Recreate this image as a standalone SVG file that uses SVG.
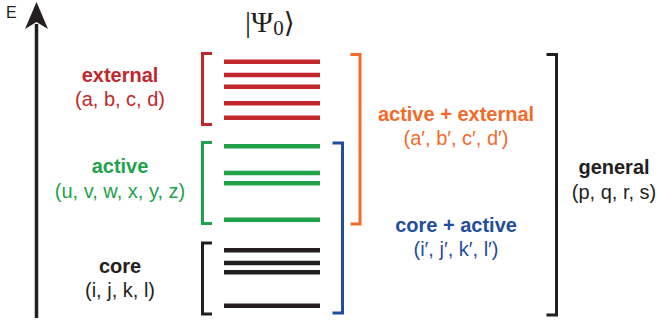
<svg xmlns="http://www.w3.org/2000/svg" width="658" height="327" viewBox="0 0 658 327">
<style>
.b{font-family:"Liberation Sans",Arial,sans-serif;font-weight:bold;font-size:20px;text-anchor:middle}
.r{font-family:"Liberation Sans",Arial,sans-serif;font-size:20px;text-anchor:middle}
.br{fill:none;stroke-width:3;stroke-linecap:butt;stroke-linejoin:miter}
.lv{stroke-width:4.5}
.tred{fill:#C1272D}.sred{stroke:#C1272D}
.tgrn{fill:#1FA24A}.sgrn{stroke:#1FA24A}
.tblk{fill:#231F20}.sblk{stroke:#231F20}
.torg{fill:#F26B2A}.sorg{stroke:#F26B2A}
.tblu{fill:#1F4E9E}.sblu{stroke:#1F4E9E}
</style>
<rect width="658" height="327" fill="#ffffff"/>

<g id="axis">
<line x1="36.5" y1="318" x2="36.5" y2="24" stroke="#231F20" stroke-width="3.5"/>
<path d="M36.5,2 L48,29 L36.5,22 L25,29 Z" fill="#231F20"/>
<text x="6" y="18" font-family="Liberation Sans,Arial,sans-serif" font-size="16" fill="#231F20">E</text>
</g>

<g id="psi0">
<text x="245" y="32" font-family="Liberation Serif,'DejaVu Serif',serif" font-size="30" fill="#231F20">|Ψ<tspan font-size="21" dy="3">0</tspan><tspan dy="-3" font-family="DejaVu Serif,serif" font-size="28">⟩</tspan></text>
</g>

<g id="external">
<text class="b tred" x="120" y="81.5">external</text>
<text class="r tred" x="120" y="106">(a, b, c, d)</text>
<path class="br sred" d="M212,53.5 H202.5 V124.5 H212"/>
<g class="lv sred">
<line x1="224" y1="61.7" x2="320" y2="61.7"/>
<line x1="224" y1="75" x2="320" y2="75"/>
<line x1="224" y1="86.7" x2="320" y2="86.7"/>
<line x1="224" y1="103.3" x2="320" y2="103.3"/>
<line x1="224" y1="117.7" x2="320" y2="117.7"/>
</g>
</g>

<g id="active">
<text class="b tgrn" x="120" y="172.5">active</text>
<text class="r tgrn" x="120" y="198">(u, v, w, x, y, z)</text>
<path class="br sgrn" d="M212,142.5 H202.5 V223.5 H212"/>
<g class="lv sgrn">
<line x1="224" y1="146.3" x2="320" y2="146.3"/>
<line x1="224" y1="173" x2="320" y2="173"/>
<line x1="224" y1="183.3" x2="320" y2="183.3"/>
<line x1="224" y1="219.7" x2="320" y2="219.7"/>
</g>
</g>

<g id="core">
<text class="b tblk" x="120" y="272.5">core</text>
<text class="r tblk" x="120" y="297">(i, j, k, l)</text>
<path class="br sblk" d="M212,243 H202.5 V314 H212"/>
<g class="lv sblk">
<line x1="224" y1="250.3" x2="320" y2="250.3"/>
<line x1="224" y1="263" x2="320" y2="263"/>
<line x1="224" y1="272.3" x2="320" y2="272.3"/>
<line x1="224" y1="305.7" x2="320" y2="305.7"/>
</g>
</g>

<g id="active-external">
<path class="br sorg" d="M350.5,54.5 H360 V224 H350.5"/>
<text class="b torg" x="456" y="121">active + external</text>
<text class="r torg" x="456" y="144.5">(a′, b′, c′, d′)</text>
</g>

<g id="core-active">
<path class="br sblu" d="M332.5,143 H342.5 V313 H332.5"/>
<text class="b tblu" x="456" y="231.5">core + active</text>
<text class="r tblu" x="456" y="255.5">(i′, j′, k′, l′)</text>
</g>

<g id="general">
<path class="br sblk" d="M546.5,54.5 H556.5 V315 H546.5" stroke-width="3.5"/>
<text class="b tblk" x="614" y="173.5">general</text>
<text class="r tblk" x="614" y="199">(p, q, r, s)</text>
</g>

<g id="connectors"></g>
</svg>
